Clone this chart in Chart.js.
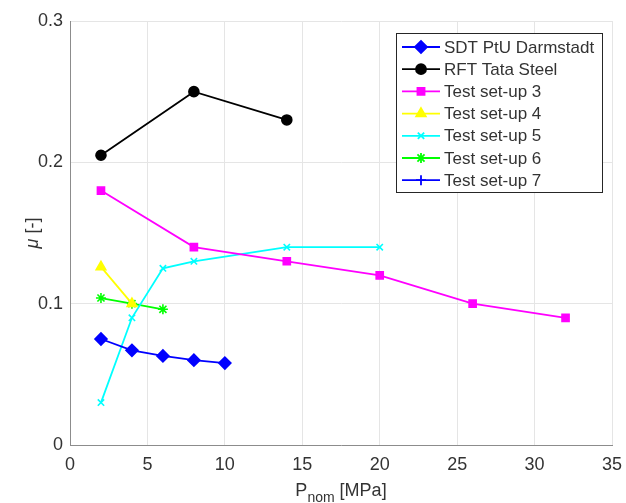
<!DOCTYPE html>
<html>
<head>
<meta charset="utf-8">
<script src="https://cdn.jsdelivr.net/npm/chart.js@4.4.0/dist/chart.umd.min.js"></script>
<style>
  html, body { margin: 0; padding: 0; background: #fff; }
  #wrap { width: 626px; height: 503px; }
</style>
</head>
<body>
<div id="wrap"><canvas id="muChart" width="626" height="503"></canvas></div>
<script>
// series data
const seriesNames = ['SDT PtU Darmstadt', 'RFT Tata Steel', 'Test set-up 3', 'Test set-up 4',
                     'Test set-up 5', 'Test set-up 6', 'Test set-up 7'];
const sdtP = [2, 4, 6, 8, 10];
const sdtMu = [0.075, 0.067, 0.063, 0.060, 0.058];
const rftP = [2, 8, 14];
const rftMu = [0.205, 0.25, 0.23];
const setup3P = [2, 8, 14, 20, 26, 32];
const setup3Mu = [0.18, 0.14, 0.13, 0.12, 0.10, 0.09];
const setup4P = [2, 4];
const setup4Mu = [0.126, 0.10];
const setup5P = [2, 4, 6, 8, 14, 20];
const setup5Mu = [0.03, 0.09, 0.125, 0.13, 0.14, 0.14];
const setup6P = [2, 4, 6];
const setup6Mu = [0.104, 0.10, 0.096];
const setup7P = [];
const setup7Mu = [];
const xTicks = [0, 5, 10, 15, 20, 25, 30, 35];
const yTicks = [0, 0.1, 0.2, 0.3];

const FONT = '"Liberation Sans", Arial, sans-serif';
const TXT = '#333333';

function pts(xs, ys) {
  return xs.map((x, i) => ({ x: x, y: ys[i] }));
}

function series(i, xs, ys, color, style, radius) {
  return {
    label: seriesNames[i],
    data: pts(xs, ys),
    showLine: true,
    borderColor: color,
    backgroundColor: color,
    pointBackgroundColor: color,
    pointBorderColor: color,
    pointStyle: style,
    pointRadius: radius,
    pointBorderWidth: 1.6,
    borderWidth: 1.8
  };
}

const datasets = [
  series(0, sdtP, sdtMu, '#0000ff', 'rectRot', 6),
  series(1, rftP, rftMu, '#000000', 'circle', 5),
  series(2, setup3P, setup3Mu, '#ff00ff', 'rect', 5),
  series(3, setup4P, setup4Mu, '#ffff00', 'triangle', 5.5),
  series(4, setup5P, setup5Mu, '#00ffff', 'crossRot', 4.5),
  series(5, setup6P, setup6Mu, '#00ff00', 'star', 5),
  series(6, setup7P, setup7Mu, '#0000ff', 'cross', 5)
];

// axis titles + boxed legend, drawn by hand
const extras = {
  id: 'extras',
  afterDraw(chart) {
    const ctx = chart.ctx;
    const area = chart.chartArea;
    ctx.save();
    ctx.fillStyle = TXT;

    // x title with subscript
    ctx.textBaseline = 'alphabetic';
    ctx.font = '18px ' + FONT;
    const cx = (area.left + area.right) / 2;
    const wP = ctx.measureText('P').width;
    ctx.font = '14px ' + FONT;
    const wSub = ctx.measureText('nom').width;
    ctx.font = '18px ' + FONT;
    const wRest = ctx.measureText(' [MPa]').width;
    let x0 = cx - (wP + wSub + wRest) / 2;
    const by = 496;
    ctx.textAlign = 'left';
    ctx.fillText('P', x0, by);
    ctx.font = '14px ' + FONT;
    ctx.fillText('nom', x0 + wP, by + 6);
    ctx.font = '18px ' + FONT;
    ctx.fillText(' [MPa]', x0 + wP + wSub, by);

    // y title
    ctx.save();
    ctx.translate(38, (area.top + area.bottom) / 2);
    ctx.rotate(-Math.PI / 2);
    ctx.font = 'italic 18px ' + FONT;
    const wMu = ctx.measureText('\u03bc').width;
    ctx.font = '18px ' + FONT;
    const wBr = ctx.measureText(' [-]').width;
    let y0 = -(wMu + wBr) / 2;
    ctx.font = 'italic 18px ' + FONT;
    ctx.fillText('\u03bc', y0, 0);
    ctx.font = '18px ' + FONT;
    ctx.fillText(' [-]', y0 + wMu, 0);
    ctx.restore();

    // legend box
    const lx = 396, ly = 33, lw = 206, lh = 159;
    ctx.fillStyle = '#ffffff';
    ctx.fillRect(lx, ly, lw, lh);
    ctx.strokeStyle = '#262626';
    ctx.lineWidth = 1;
    ctx.strokeRect(lx + 0.5, ly + 0.5, lw, lh);
    ctx.font = '17px ' + FONT;
    ctx.textBaseline = 'middle';
    chart.data.datasets.forEach((ds, i) => {
      const ry = ly + 14 + i * 22.2;
      ctx.strokeStyle = ds.borderColor;
      ctx.lineWidth = ds.borderWidth;
      ctx.beginPath();
      ctx.moveTo(402, ry);
      ctx.lineTo(440, ry);
      ctx.stroke();
      ctx.fillStyle = ds.backgroundColor;
      Chart.helpers.drawPoint(ctx, {
        pointStyle: ds.pointStyle,
        radius: ds.pointRadius,
        borderWidth: ds.pointBorderWidth,
        rotation: 0
      }, 421, ry);
      ctx.fillStyle = TXT;
      ctx.fillText(ds.label, 444, ry + 1);
    });
    ctx.restore();
  }
};

new Chart(document.getElementById('muChart').getContext('2d'), {
  type: 'scatter',
  data: { datasets: datasets },
  options: {
    responsive: false,
    animation: false,
    layout: { padding: { top: 21, right: 14, left: 0, bottom: 0 } },
    plugins: { legend: { display: false }, tooltip: { enabled: false } },
    scales: {
      x: {
        min: 0, max: 35,
        afterBuildTicks: s => { s.ticks = xTicks.map(v => ({ value: v })); },
        afterFit: s => { s.height = 58; s.paddingLeft = 0; s.paddingRight = 0; },
        grid: { color: '#e5e5e5', drawTicks: false },
        border: { color: '#8c8c8c', width: 1 },
        ticks: { color: TXT, font: { family: FONT, size: 18 }, padding: 9, maxRotation: 0 }
      },
      y: {
        min: 0, max: 0.3,
        afterBuildTicks: s => { s.ticks = yTicks.map(v => ({ value: v })); },
        afterFit: s => { s.width = 70; s.paddingTop = 0; s.paddingBottom = 0; },
        grid: { color: '#e5e5e5', drawTicks: false },
        border: { color: '#8c8c8c', width: 1 },
        ticks: { color: TXT, font: { family: FONT, size: 18 }, padding: 7 }
      }
    }
  },
  plugins: [extras]
});
</script>
</body>
</html>
